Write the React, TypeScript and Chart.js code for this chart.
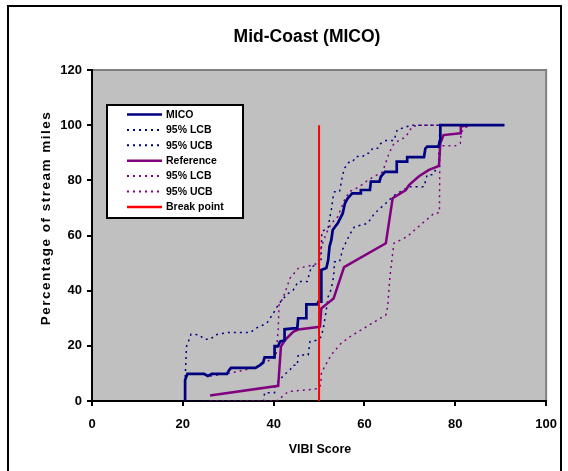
import React, { useEffect, useRef } from "react";
import { Chart, registerables } from "chart.js";

Chart.register(...registerables);

// ---------------- data ----------------
const micoX = [20.5, 20.5, 21, 24.7, 25.5, 26.4, 29.7, 30.2, 30.6, 36, 37, 37.7, 38, 40.2, 40.2, 41, 41.4, 42.4, 42.4, 44.3, 45.2, 45.4, 47.2, 47.2, 49.6, 49.9, 50.5, 50.5, 51.6, 52, 52.3, 52.7, 53, 54.1, 55.2, 55.7, 56.3, 57, 57.3, 59.2, 59.2, 61.2, 61.4, 63.3, 63.6, 64.5, 67.1, 67.1, 69.4, 69.4, 73.1, 73.4, 73.8, 76.3, 76.7, 76.7, 90.8];
const micoY = [0, 7.6, 9.8, 9.8, 9.1, 9.8, 9.8, 11.2, 12, 12, 13, 14, 15.8, 15.8, 19.9, 19.9, 21.5, 22, 26, 26.3, 26.3, 30, 30, 35, 35, 36, 36, 47.5, 48.2, 51, 56, 58.4, 62, 64.4, 68, 71.7, 73.5, 74.7, 75.3, 75.3, 76.5, 76.5, 79.5, 79.5, 81.3, 83.1, 83.1, 86.8, 86.8, 88.4, 88.4, 91.5, 92.2, 92.2, 95, 100, 100];

const micoLcbX = [20.5, 37.8, 38, 40.2, 40.3, 41.5, 42.5, 43.5, 44.3, 45.2, 45.4, 47.6, 48, 49.4, 50.5, 51, 51.5, 52, 52.6, 53.2, 53.4, 54.5, 55.2, 56.7, 57.8, 60.7, 62.2, 64.7, 66.5, 69.8, 73.1, 73.8, 75, 76.3, 76.6, 90.8];
const micoLcbY = [0, 0, 3, 3, 5.8, 8, 9.8, 11, 13, 13, 16.7, 16.7, 21.5, 22, 23.3, 27, 32, 37.8, 40.2, 45, 50.5, 50.5, 55, 60.2, 63.2, 64.4, 68, 71.7, 74.5, 77.7, 77.7, 82, 82, 85.6, 100, 100];

const micoUcbX = [20.5, 20.5, 20.8, 21.8, 23.6, 24.7, 26.1, 27.2, 29.8, 34.9, 36, 38.5, 40, 41, 41.8, 43.2, 44.3, 45.4, 47.4, 48.3, 49.6, 50.4, 50.6, 52, 52.3, 52.7, 53.1, 53.4, 54.5, 55.2, 55.6, 56.7, 57.4, 58.1, 59.6, 60.3, 61.1, 61.8, 62.9, 63.6, 64.7, 66.5, 67.2, 69.4, 70.5, 90.8];
const micoUcbY = [0, 7.6, 19.7, 24.2, 24, 22.4, 22.4, 24, 24.8, 24.8, 26.3, 28.2, 32, 34.8, 36.6, 39, 40.2, 43.3, 43.3, 48.7, 49.3, 50, 61.4, 62.7, 66, 69.3, 74, 75.9, 75.9, 82, 84.4, 86.8, 86.8, 88.6, 88.6, 89.8, 89.8, 91.6, 91.6, 93.4, 94.4, 94.4, 98.3, 99.5, 100, 100];

const refX = [26, 41, 41.6, 42.5, 44.3, 45.4, 49.8, 50.2, 50.5, 53.2, 55.5, 64.7, 66.2, 69.1, 69.8, 72, 74.2, 76.4, 76.7, 77.4, 81.1, 81.2, 82.9];
const refY = [2, 5.5, 19.7, 22.1, 25.1, 25.9, 26.8, 27, 33.6, 37.2, 48.5, 57.2, 73.5, 76.5, 78.3, 81.5, 83.8, 85.2, 93.4, 96.4, 97.1, 99.5, 100];

const refLcbX = [26, 40.5, 41, 43.2, 48.3, 49.8, 50.4, 50.5, 51.2, 52.7, 54.9, 57, 59.2, 64.7, 65.1, 65.6, 66.2, 66.5, 69.4, 72.3, 75.3, 76.5, 76.6, 80, 81.1, 81.3, 82.9];
const refLcbY = [0, 0, 0.4, 3.4, 4.2, 4.5, 6, 10, 12.4, 16.8, 21, 23.5, 25.7, 31.2, 34.2, 45, 53.5, 57.2, 59.6, 63.8, 68, 68.3, 92.5, 92.5, 93.4, 97.5, 100];

const refUcbX = [26, 30, 33, 36, 38.5, 40.5, 41, 41.2, 42, 43.6, 45.4, 48.7, 49.8, 50.5, 51.6, 52.7, 54.1, 55.6, 56.7, 58.9, 60.7, 64, 65.4, 66.5, 69.1, 70.5, 72, 82.9];
const refUcbY = [9, 10, 11, 12.3, 14.3, 16, 26, 35.4, 37, 44.5, 48.1, 49.3, 50, 56, 60.8, 64.4, 66.8, 72.9, 75.9, 77.7, 80, 83.1, 89.8, 93.4, 95.8, 99.5, 100, 100];

const breakX = [50, 50];
const breakY = [0, 100];

const xTicks = [0, 20, 40, 60, 80, 100];
const yTicks = [0, 20, 40, 60, 80, 100, 120];

const chartTitle = "Mid-Coast (MICO)";
const xTitle = "VIBI Score";
const yTitle = "Percentage of stream miles";
const seriesLabels = ["MICO", "95% LCB", "95% UCB", "Reference", "95% LCB", "95% UCB", "Break point"];

// ---------------- styling ----------------
const FONT = "'Liberation Sans', Arial, sans-serif";
const NAVY = "#000080";
const PURPLE = "#800080";
const RED = "#FF0000";
const DOT = [2, 4];

function pts(xs: number[], ys: number[]) {
  return xs.map((x, i) => ({ x, y: ys[i] }));
}

const decorPlugin = {
  id: "decor",
  beforeDraw(chart: any) {
    const { ctx, chartArea: a } = chart;
    ctx.save();
    ctx.fillStyle = "#ffffff";
    ctx.fillRect(0, 0, chart.width, chart.height);
    ctx.strokeStyle = "#000000";
    ctx.lineWidth = 2;
    ctx.strokeRect(8, 6, 553, 490);
    ctx.fillStyle = "#C0C0C0";
    ctx.fillRect(a.left, a.top, a.right - a.left, a.bottom - a.top);
    ctx.strokeStyle = "#808080";
    ctx.lineWidth = 2;
    ctx.beginPath();
    ctx.moveTo(a.left, a.top);
    ctx.lineTo(a.right, a.top);
    ctx.lineTo(a.right, a.bottom);
    ctx.stroke();
    ctx.restore();
  },
  afterDraw(chart: any) {
    const { ctx } = chart;
    ctx.save();
    ctx.fillStyle = "#000";
    ctx.textAlign = "center";
    ctx.textBaseline = "middle";
    ctx.font = `bold 17.5px ${FONT}`;
    ctx.fillText(chartTitle, 307, 37);
    ctx.font = `bold 12.5px ${FONT}`;
    ctx.fillText(xTitle, 320, 450);
    ctx.save();
    ctx.translate(46, 218);
    ctx.rotate(-Math.PI / 2);
    ctx.font = `bold 13.5px ${FONT}`;
    (ctx as any).letterSpacing = "1.5px";
    ctx.fillText(yTitle, 0, 0);
    ctx.restore();

    // legend
    const lx = 107, ly = 105, lw = 136, lh = 113;
    ctx.fillStyle = "#fff";
    ctx.fillRect(lx, ly, lw, lh);
    ctx.strokeStyle = "#000";
    ctx.lineWidth = 2;
    ctx.strokeRect(lx, ly, lw, lh);
    const ds = chart.data.datasets;
    ctx.textAlign = "left";
    ctx.font = `bold 10.5px ${FONT}`;
    for (let i = 0; i < ds.length; i++) {
      const y = 114.5 + i * 15.4;
      ctx.save();
      ctx.strokeStyle = ds[i].borderColor;
      ctx.lineWidth = ds[i].borderDash && ds[i].borderDash.length ? 2 : 2.5;
      ctx.setLineDash(ds[i].borderDash || []);
      ctx.beginPath();
      ctx.moveTo(127, y);
      ctx.lineTo(162, y);
      ctx.stroke();
      ctx.restore();
      ctx.fillStyle = "#000";
      ctx.fillText(ds[i].label, 166, y + 0.5);
    }
    ctx.restore();
  },
};

export default function App() {
  const ref = useRef<HTMLCanvasElement | null>(null);
  useEffect(() => {
    if (!ref.current) return;
    const mk = (i: number, xs: number[], ys: number[], color: string, width: number, dotted: boolean, order: number) => ({
      label: seriesLabels[i],
      data: pts(xs, ys),
      borderColor: color,
      backgroundColor: color,
      borderWidth: width,
      borderDash: dotted ? DOT : [],
      pointRadius: 0,
      showLine: true,
      fill: false,
      tension: 0,
      order,
    });
    const chart = new Chart(ref.current, {
      type: "scatter",
      data: {
        datasets: [
          mk(0, micoX, micoY, NAVY, 2.7, false, 1),
          mk(1, micoLcbX, micoLcbY, NAVY, 1.5, true, 4),
          mk(2, micoUcbX, micoUcbY, NAVY, 1.5, true, 4),
          mk(3, refX, refY, PURPLE, 2.5, false, 2),
          mk(4, refLcbX, refLcbY, PURPLE, 1.5, true, 3),
          mk(5, refUcbX, refUcbY, PURPLE, 1.5, true, 3),
          mk(6, breakX, breakY, RED, 2, false, 0),
        ] as any,
      },
      options: {
        animation: false,
        responsive: false,
        devicePixelRatio: 1,
        layout: { padding: { left: 0, top: 70, right: 18, bottom: 0 } },
        plugins: { legend: { display: false }, title: { display: false }, tooltip: { enabled: false } },
        scales: {
          x: {
            type: "linear",
            min: 0,
            max: 100,
            afterFit: (s: any) => { s.height = 70; },
            afterBuildTicks: (s: any) => { s.ticks = xTicks.map((v) => ({ value: v })); },
            ticks: { color: "#000", font: { family: FONT, size: 13, weight: "bold" }, padding: 11, maxRotation: 0 },
            grid: { drawOnChartArea: false, drawTicks: true, tickLength: 5, color: "#000", lineWidth: 2 },
            border: { display: true, color: "#000", width: 2 },
          },
          y: {
            type: "linear",
            min: 0,
            max: 120,
            afterFit: (s: any) => { s.width = 92; },
            afterBuildTicks: (s: any) => { s.ticks = yTicks.map((v) => ({ value: v })); },
            ticks: { color: "#000", font: { family: FONT, size: 13, weight: "bold" }, padding: 5 },
            grid: { drawOnChartArea: false, drawTicks: true, tickLength: 5, color: "#000", lineWidth: 2 },
            border: { display: true, color: "#000", width: 2 },
          },
        },
      },
      plugins: [decorPlugin],
    } as any);
    return () => chart.destroy();
  }, []);
  return (
    <div style={{ position: "fixed", left: 0, top: 0, width: 568, height: 471 }}>
      <canvas ref={ref} width={568} height={471} style={{ width: 568, height: 471, display: "block" }} />
    </div>
  );
}
